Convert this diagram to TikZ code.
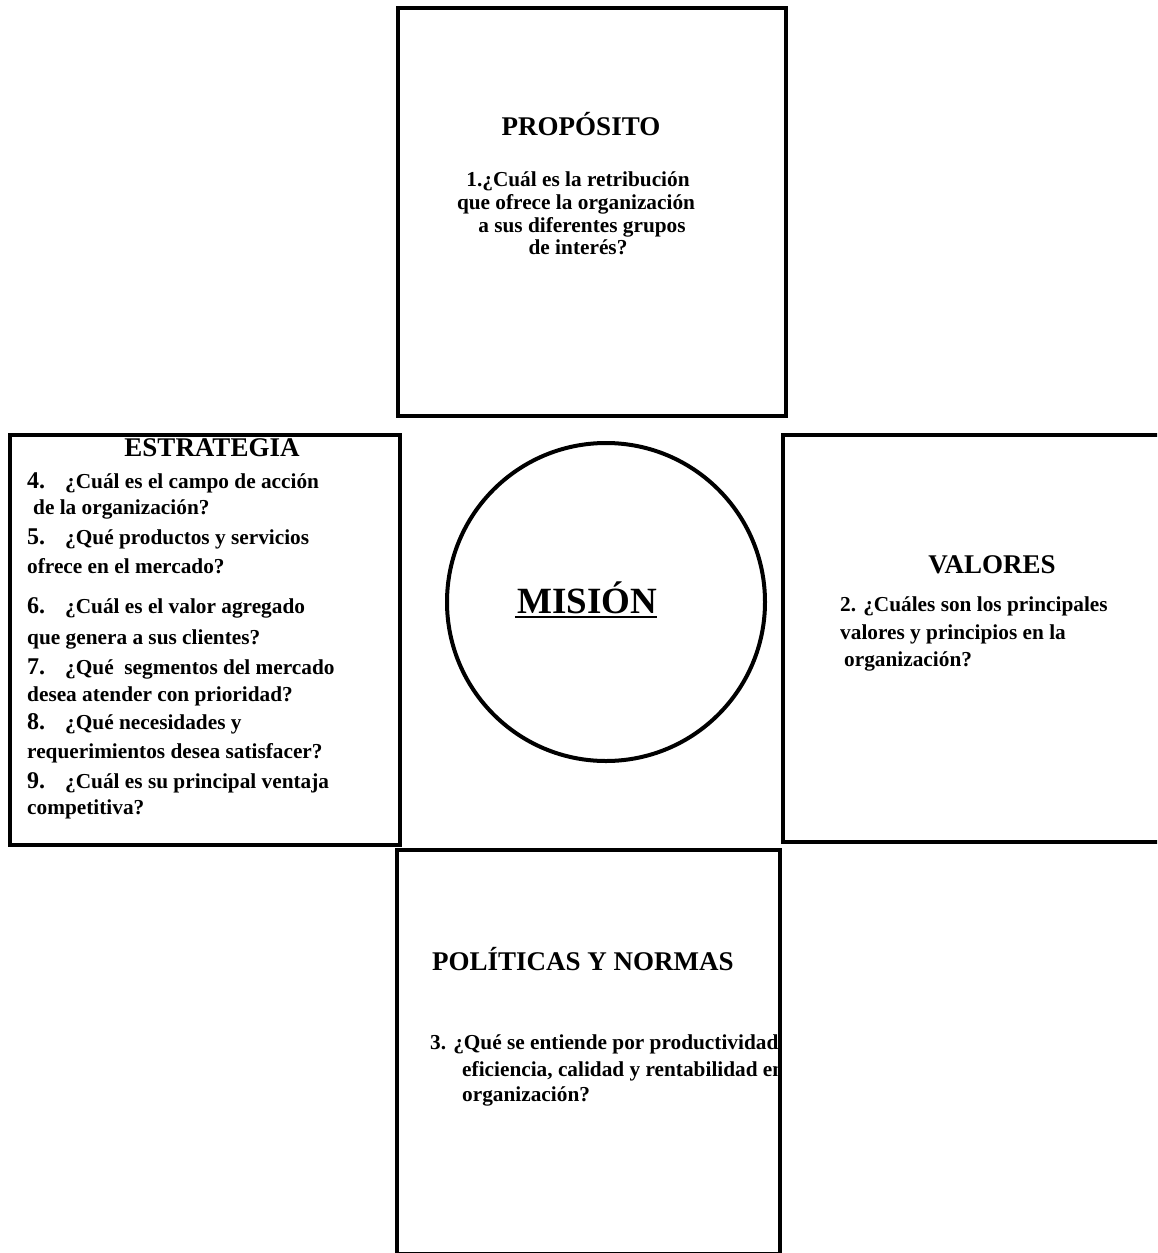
\documentclass[tikz,border=0pt]{standalone}
\usepackage{fontspec}
\setmainfont{Liberation Serif}[BoldFont={Liberation Serif Bold}]
\begin{document}
\begin{tikzpicture}[x=1pt,y=-1pt,
  box/.style={draw, line width=4pt, rectangle, inner sep=0pt},
  body/.style={font=\fontsize{21.3}{24}\selectfont\bfseries, inner sep=0pt, anchor=base west},
  bodyc/.style={font=\fontsize{21.3}{24}\selectfont\bfseries, inner sep=0pt, anchor=base},
  head/.style={font=\fontsize{27}{30}\selectfont\bfseries, inner sep=0pt, anchor=base},
  headw/.style={font=\fontsize{27}{30}\selectfont\bfseries, inner sep=0pt, anchor=base west},
  num/.style={font=\fontsize{24}{26}\selectfont\bfseries, inner sep=0pt, anchor=base west}]
\clip (0,0) rectangle (1157,1253);
\fill[white] (0,0) rectangle (1157,1253);

% boxes
\node[box, minimum width=388, minimum height=408] (prop) at (592,212) {};
\node[box, minimum width=390, minimum height=410] (estr) at (205,640) {};
\node[box, minimum width=417, minimum height=407] (valo) at (991.5,638.5) {};
\node[box, minimum width=383, minimum height=404] (poli) at (588.5,1052) {};
\node[draw, circle, line width=4pt, minimum size=318, inner sep=0pt] (circ) at (606,602) {};

% MISION
\node[font=\fontsize{37}{40}\selectfont\bfseries, inner sep=0pt, anchor=base] (mis) at (587,613) {MISIÓN};
\draw[line width=2pt] ([yshift=-4pt,xshift=-2pt]mis.base west) -- ([yshift=-4pt]mis.base east);

% PROPOSITO
\begin{scope}
\clip (prop.north west) rectangle (prop.south east);
\node[head] (ph) at (581,135) {PROPÓSITO};
\node[bodyc] (p1) at (578,186) {1.¿Cuál es la retribución};
\node[bodyc] (p2) at (576,209) {que ofrece la organización};
\node[bodyc] (p3) at (582,232) {a sus diferentes grupos};
\node[bodyc] (p4) at (578,254) {de interés?};
\end{scope}

% ESTRATEGIA
\begin{scope}
\clip ([yshift=-3pt]estr.north west) rectangle (estr.south east);
\node[head] (eh) at (212,456) {ESTRATEGIA};
\node[num] (n4) at (27,488) {4.};
\node[body] (e4) at (65,488) {¿Cuál es el campo de acción};
\node[body] (e4b) at (33,514) {de la organización?};
\node[num] (n5) at (27,544) {5.};
\node[body] (e5) at (65,544) {¿Qué productos y servicios};
\node[body] (e5b) at (27,573) {ofrece en el mercado?};
\node[num] (n6) at (27,613) {6.};
\node[body] (e6) at (65,613) {¿Cuál es el valor agregado};
\node[body] (e6b) at (27,644) {que genera a sus clientes?};
\node[num] (n7) at (27,674) {7.};
\node[body] (e7) at (65,674) {¿Qué\ \ segmentos del mercado};
\node[body] (e7b) at (27,701) {desea atender con prioridad?};
\node[num] (n8) at (27,729) {8.};
\node[body] (e8) at (65,729) {¿Qué necesidades y};
\node[body] (e8b) at (27,758) {requerimientos desea satisfacer?};
\node[num] (n9) at (27,788) {9.};
\node[body] (e9) at (65,788) {¿Cuál es su principal ventaja};
\node[body] (e9b) at (27,814) {competitiva?};
\end{scope}

% VALORES
\begin{scope}
\clip (valo.north west) rectangle (valo.south east);
\node[head] (vh) at (992,573) {VALORES};
\node[body] (v1) at (840,611) {2. ¿Cuáles son los principales};
\node[body] (v2) at (840,639) {valores y principios en la};
\node[body] (v3) at (844,666) {organización?};
\end{scope}

% POLITICAS
\begin{scope}
\clip (poli.north west) rectangle ([xshift=-2pt]poli.south east);
\node[headw] (lh) at (432,970) {POLÍTICAS Y NORMAS};
\node[body] (l1) at (430,1049) {3. ¿Qué se entiende por productividad,};
\node[body] (l2) at (462,1076) {eficiencia, calidad y rentabilidad en la};
\node[body] (l3) at (462,1101) {organización?};
\end{scope}
\end{tikzpicture}
\end{document}
